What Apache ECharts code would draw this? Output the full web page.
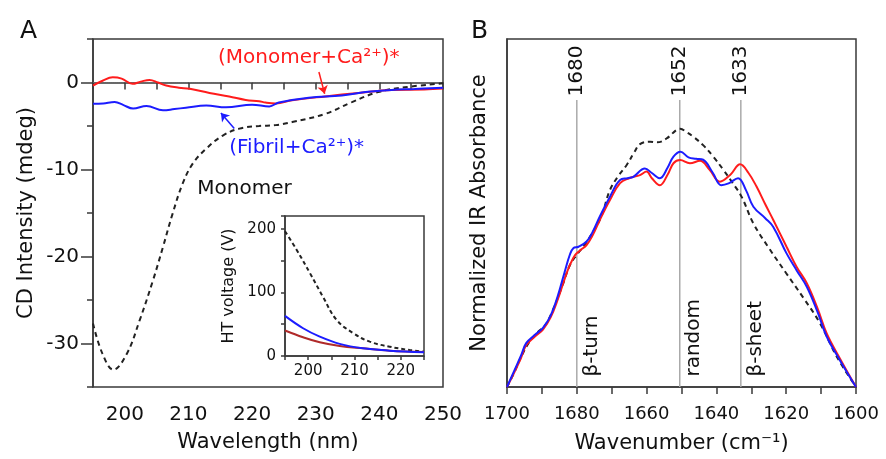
<!DOCTYPE html>
<html>
<head>
<meta charset="utf-8">
<script src="https://cdn.jsdelivr.net/npm/echarts@6/dist/echarts.min.js"></script>
<style>
html, body { margin: 0; padding: 0; background: #fff; }
#chart { width: 886px; height: 459px; }
</style>
</head>
<body>
<div id="chart"></div>
<script>
// ---- panel A: CD spectra (wavelength nm, mdeg) ----
var cdMonomerWl = [195, 196.5, 198.2, 200.3, 202.3, 204.4, 206, 207.5, 209.1, 210.7, 212.8, 215.4, 218, 221.1, 223.7, 226.3, 231.5, 235.7, 239.8, 244, 250];
var cdMonomerVal = [-27.7, -31.2, -33.0, -31.2, -27.4, -22.8, -18.9, -15.1, -11.6, -9.3, -7.6, -6.1, -5.3, -5.0, -4.9, -4.55, -3.6, -2.25, -1.1, -0.55, -0.1];

var cdMonoCaWl = [195, 196.5, 198.1, 199.5, 201.2, 202.5, 203.9, 205.2, 206.5, 208.5, 210.2, 213.3, 216.4, 219, 221.1, 222.1, 223.7, 226.3, 231.5, 236.7, 241.9, 247.1, 250];
var cdMonoCaVal = [-0.35, 0.2, 0.6, 0.45, -0.15, 0.1, 0.3, 0.0, -0.35, -0.6, -0.73, -1.2, -1.6, -2.0, -2.15, -2.3, -2.4, -2.05, -1.6, -1.2, -0.85, -0.8, -0.7];

var cdFibCaWl = [195, 196.6, 198.4, 199.8, 201.3, 203.4, 206, 207.8, 209.6, 212.8, 215.9, 220, 222.7, 224.2, 228.9, 234.1, 237.8, 241.9, 245.5, 250];
var cdFibCaVal = [-2.45, -2.4, -2.25, -2.6, -3.0, -2.7, -3.2, -3.05, -2.9, -2.65, -2.85, -2.55, -2.75, -2.3, -1.75, -1.5, -1.1, -0.85, -0.75, -0.6];

var zeroLineX = [195, 250];
var cdMajorTicks = [-30, -20, -10, 0];

// inset: HT voltage (V)
var htWl = [195, 197.5, 200.4, 203.2, 206.1, 209.7, 213.3, 217.6, 221.9, 225];
var htMonomer = [196, 167, 130, 93, 57, 36, 22.5, 14.6, 9.4, 6.8];
var htWl2 = [195, 198.9, 202.5, 206.8, 211.8, 217.6, 225];
var htFibCa = [63, 43.6, 30.4, 19, 12, 8.4, 6];
var htMonoCa = [40, 29.4, 21.5, 15.7, 12, 8.4, 6.3];

// ---- panel B: IR spectra (wavenumber cm-1, normalized) ----
var irMonomerWn = [1700, 1698, 1696, 1694, 1691.5, 1689, 1686.5, 1684, 1682, 1680, 1678, 1676, 1673, 1670.5, 1668, 1665.7, 1663.5, 1661.9, 1659, 1657, 1654.3, 1651.4, 1650.4, 1648.5, 1646.6, 1643.8, 1640.9, 1638, 1635.6, 1632.8, 1629.4, 1625, 1620, 1615, 1610.3, 1605.5, 1600];
var irMonomerVal = [0, 4, 8.5, 12.3, 15.5, 17.8, 23, 29.5, 35, 38, 40.5, 43.5, 49, 56.6, 60.8, 63.8, 67.5, 69.8, 70.5, 70.3, 71.4, 73.9, 74.2, 73.2, 71.9, 69.5, 66.2, 62.4, 59, 54.7, 47, 40, 32.7, 25.5, 18.3, 8.7, 0];

var irFibCaWn = [1700, 1698, 1696, 1694.5, 1692, 1689.7, 1687.5, 1685.5, 1683.5, 1682, 1681, 1679.5, 1677.2, 1675.5, 1673.4, 1670.5, 1667.6, 1665.5, 1663.8, 1660.5, 1658.5, 1656.2, 1654, 1652.3, 1650.3, 1648, 1645.8, 1643.8, 1641, 1638.6, 1636.5, 1633.8, 1631.5, 1629.4, 1626, 1623.7, 1619.9, 1617, 1614.1, 1611, 1608.4, 1604.5, 1600];
var irFibCaVal = [0, 4.5, 9, 12.6, 15, 17, 20.5, 26, 33, 38, 39.9, 40.3, 41.8, 44.5, 49, 54.7, 59.5, 60, 60.4, 62.8, 61.5, 60, 63, 66.2, 67.6, 66, 65.6, 65.3, 61.5, 58, 58.5, 60, 56.5, 51.8, 48.5, 46, 38.4, 33.5, 28.8, 21.5, 14.5, 7.5, 0];

var irMonoCaWn = [1700, 1698, 1696, 1694.5, 1692, 1689.7, 1687.5, 1685.5, 1683.5, 1682, 1680.5, 1679, 1677.2, 1675.5, 1673.4, 1670.5, 1667.6, 1665, 1661.9, 1660, 1658.5, 1656.2, 1654, 1652.3, 1650.4, 1647.6, 1644.7, 1642, 1639, 1636, 1633.2, 1630.8, 1628.5, 1626, 1623.7, 1619.9, 1617, 1614.1, 1611, 1608.4, 1604.5, 1600];
var irMonoCaVal = [0, 4, 8.3, 12, 14.5, 16.5, 20, 25, 31, 35, 37.9, 39.3, 40.8, 43.5, 48, 53.7, 58.6, 60, 60.9, 61.9, 60, 58, 61, 64.3, 65.2, 64.3, 65, 62.5, 59, 61, 64, 61.5, 57.6, 52.5, 48, 40.3, 34.5, 29.8, 22.5, 15.4, 8, 0];

var bandPos = [1680, 1650.5, 1633];
var bandTop = 82.5;
var bandNumbers = ['1680', '1652', '1633'];
var bandNames = ['β-turn', 'random', 'β-sheet'];
var bandNameY = 3;

var FONT = 'DejaVu Sans';
var AXIS = '#3a3a3a';
var TXT = '#111';
var RED = '#ff1c1c';
var BLUE = '#1c1cff';

function pairs(xs, ys) {
    return xs.map(function (x, i) { return [x, ys[i]]; });
}
function every(n) {
    return function (v) { return Math.abs(v % n) < 1e-6 ? String(v) : ''; };
}

var chart = echarts.init(document.getElementById('chart'));

var hiddenSymbol = { color: 'rgba(0,0,0,0)', opacity: 1 };

var series = [
    // panel A
    {
        name: 'zero', type: 'line', xAxisIndex: 0, yAxisIndex: 0,
        data: pairs(zeroLineX, [0, 0]), showSymbol: false, silent: true,
        lineStyle: { color: '#666', width: 1, type: 'dotted' }
    },
    {
        name: 'Monomer', type: 'line', xAxisIndex: 0, yAxisIndex: 0,
        data: pairs(cdMonomerWl, cdMonomerVal), smooth: 0.4, showSymbol: false,
        lineStyle: { color: '#222', width: 2, type: [5, 4] }
    },
    {
        name: '(Monomer+Ca2+)*', type: 'line', xAxisIndex: 0, yAxisIndex: 0,
        data: pairs(cdMonoCaWl, cdMonoCaVal), smooth: 0.4, showSymbol: false,
        lineStyle: { color: RED, width: 2 },
        markLine: {
            silent: true, symbol: ['none', 'arrow'], symbolSize: 8,
            lineStyle: { color: RED, width: 1.5, type: 'solid' }, label: { show: false },
            data: [[{ coord: [230.5, 1.2] }, { coord: [231.4, -1.3] }]]
        }
    },
    {
        name: '(Fibril+Ca2+)*', type: 'line', xAxisIndex: 0, yAxisIndex: 0,
        data: pairs(cdFibCaWl, cdFibCaVal), smooth: 0.4, showSymbol: false,
        lineStyle: { color: BLUE, width: 2 },
        markLine: {
            silent: true, symbol: ['none', 'arrow'], symbolSize: 8,
            lineStyle: { color: BLUE, width: 1.5, type: 'solid' }, label: { show: false },
            data: [[{ coord: [217.2, -5.3] }, { coord: [215.1, -3.5] }]]
        }
    },
    {
        name: 'cd labels', type: 'scatter', xAxisIndex: 0, yAxisIndex: 0,
        symbolSize: 1, itemStyle: hiddenSymbol, silent: true,
        label: { show: true, position: 'inside', formatter: '{b}', fontFamily: FONT, fontSize: 20, opacity: 1, textBorderWidth: 0 },
        data: [
            { name: '(Monomer+Ca²⁺)*', value: [228.9, 2.8], label: { color: RED } },
            { name: '(Fibril+Ca²⁺)*', value: [227.0, -7.5], label: { color: BLUE } },
            { name: 'Monomer', value: [218.8, -12.2], label: { color: TXT } }
        ]
    },
    // inset
    {
        name: 'HT Monomer', type: 'line', xAxisIndex: 2, yAxisIndex: 2,
        data: pairs(htWl, htMonomer), smooth: 0.4, showSymbol: false,
        lineStyle: { color: '#222', width: 2, type: [4, 3] }
    },
    {
        name: 'HT Monomer+Ca', type: 'line', xAxisIndex: 2, yAxisIndex: 2,
        data: pairs(htWl2, htMonoCa), smooth: 0.4, showSymbol: false,
        lineStyle: { color: '#b02a2a', width: 2 }
    },
    {
        name: 'HT Fibril+Ca', type: 'line', xAxisIndex: 2, yAxisIndex: 2,
        data: pairs(htWl2, htFibCa), smooth: 0.4, showSymbol: false,
        lineStyle: { color: BLUE, width: 2 }
    }
];

// panel B band marker lines
bandPos.forEach(function (p) {
    series.push({
        name: 'band ' + p, type: 'line', xAxisIndex: 1, yAxisIndex: 1,
        data: pairs([p, p], [0, bandTop]), showSymbol: false, silent: true,
        lineStyle: { color: '#aaa', width: 1.5 }
    });
});
series.push(
    {
        name: 'IR Monomer', type: 'line', xAxisIndex: 1, yAxisIndex: 1,
        data: pairs(irMonomerWn, irMonomerVal), smooth: 0.4, showSymbol: false,
        lineStyle: { color: '#222', width: 2, type: [5, 4] }
    },
    {
        name: 'IR Monomer+Ca', type: 'line', xAxisIndex: 1, yAxisIndex: 1,
        data: pairs(irMonoCaWn, irMonoCaVal), smooth: 0.4, showSymbol: false,
        lineStyle: { color: RED, width: 2 }
    },
    {
        name: 'IR Fibril+Ca', type: 'line', xAxisIndex: 1, yAxisIndex: 1,
        data: pairs(irFibCaWn, irFibCaVal), smooth: 0.4, showSymbol: false,
        lineStyle: { color: BLUE, width: 2 }
    },
    {
        name: 'band numbers', type: 'scatter', xAxisIndex: 1, yAxisIndex: 1,
        symbolSize: 1, itemStyle: hiddenSymbol, silent: true,
        label: {
            show: true, position: 'top', distance: 3, rotate: 90, align: 'left', verticalAlign: 'middle',
            formatter: '{b}', fontFamily: FONT, fontSize: 20, color: TXT, opacity: 1
        },
        data: bandPos.map(function (p, i) { return { name: bandNumbers[i], value: [p, bandTop] }; })
    },
    {
        name: 'band names', type: 'scatter', xAxisIndex: 1, yAxisIndex: 1,
        symbolSize: 1, itemStyle: hiddenSymbol, silent: true,
        label: {
            show: true, position: 'right', distance: 14, rotate: 90, align: 'left', verticalAlign: 'middle',
            formatter: '{b}', fontFamily: FONT, fontSize: 20, color: TXT, opacity: 1
        },
        data: bandPos.map(function (p, i) { return { name: bandNames[i], value: [p, bandNameY] }; })
    }
);

var axisLineStyle = { color: AXIS, width: 1.5 };

var option = {
    animation: false,
    backgroundColor: '#fff',
    textStyle: { fontFamily: FONT },
    title: [
        { text: 'A', left: 15, top: 14, textStyle: { fontFamily: FONT, fontSize: 25, fontWeight: 'normal', color: TXT } },
        { text: 'B', left: 466, top: 14, textStyle: { fontFamily: FONT, fontSize: 25, fontWeight: 'normal', color: TXT } }
    ],
    grid: [
        { left: 93, top: 39, width: 350, height: 348, show: true, borderColor: AXIS, borderWidth: 1.5, backgroundColor: 'transparent', outerBoundsMode: 'none' },
        { left: 507, top: 39, width: 349, height: 348, show: true, borderColor: AXIS, borderWidth: 1.5, backgroundColor: 'transparent', outerBoundsMode: 'none' },
        { left: 285, top: 216, width: 139, height: 140, show: true, borderColor: AXIS, borderWidth: 1.5, backgroundColor: '#fff', outerBoundsMode: 'none' }
    ],
    xAxis: [
        {
            gridIndex: 0, type: 'value', min: 195, max: 250, interval: 5,
            name: 'Wavelength (nm)', nameLocation: 'middle', nameGap: 45,
            nameTextStyle: { fontFamily: FONT, fontSize: 21, color: TXT },
            axisLine: { lineStyle: axisLineStyle }, axisTick: { length: 7, lineStyle: axisLineStyle },
            axisLabel: { formatter: every(10), fontFamily: FONT, fontSize: 20, color: TXT, margin: 18 },
            splitLine: { show: false }
        },
        {
            gridIndex: 1, type: 'value', min: 1600, max: 1700, interval: 10, inverse: true,
            name: 'Wavenumber (cm⁻¹)', nameLocation: 'middle', nameGap: 46,
            nameTextStyle: { fontFamily: FONT, fontSize: 21, color: TXT },
            axisLine: { lineStyle: axisLineStyle }, axisTick: { length: 7, lineStyle: axisLineStyle },
            axisLabel: { formatter: every(20), fontFamily: FONT, fontSize: 18, color: TXT, margin: 18 },
            splitLine: { show: false }
        },
        {
            gridIndex: 2, type: 'value', min: 195, max: 225, interval: 5,
            axisLine: { lineStyle: axisLineStyle }, axisTick: { length: 4, lineStyle: axisLineStyle },
            axisLabel: { formatter: every(10), fontFamily: FONT, fontSize: 15, color: TXT, margin: 8 },
            splitLine: { show: false }
        }
    ],
    yAxis: [
        {
            gridIndex: 0, type: 'value', min: -35, max: 5, interval: 5,
            name: 'CD Intensity (mdeg)', nameLocation: 'middle', nameGap: 56,
            nameTextStyle: { fontFamily: FONT, fontSize: 21, color: TXT },
            axisLine: { lineStyle: axisLineStyle }, axisTick: { length: 6, lineStyle: axisLineStyle },
            axisLabel: { formatter: every(10), fontFamily: FONT, fontSize: 20, color: TXT, margin: 14 },
            splitLine: { show: false }
        },
        {
            gridIndex: 1, type: 'value', min: 0, max: 100,
            name: 'Normalized IR Absorbance', nameLocation: 'middle', nameGap: 17,
            nameTextStyle: { fontFamily: FONT, fontSize: 21, color: TXT },
            axisLine: { lineStyle: axisLineStyle }, axisTick: { show: false },
            axisLabel: { show: false }, splitLine: { show: false }
        },
        {
            gridIndex: 2, type: 'value', min: 0, max: 220, interval: 50,
            name: 'HT voltage (V)', nameLocation: 'middle', nameGap: 48,
            nameTextStyle: { fontFamily: FONT, fontSize: 16, color: TXT },
            axisLine: { lineStyle: axisLineStyle }, axisTick: { length: 4, lineStyle: axisLineStyle },
            axisLabel: { formatter: every(100), fontFamily: FONT, fontSize: 15, color: TXT, margin: 9 },
            splitLine: { show: false }
        },
        {
            // longer ticks at the labelled values of panel A
            gridIndex: 0, type: 'value', min: -35, max: 5, position: 'left',
            axisLine: { show: false },
            axisTick: { show: true, length: 12, customValues: cdMajorTicks, lineStyle: axisLineStyle },
            axisLabel: { show: false }, splitLine: { show: false }
        }
    ],
    series: series
};

chart.setOption(option);
</script>
</body>
</html>
